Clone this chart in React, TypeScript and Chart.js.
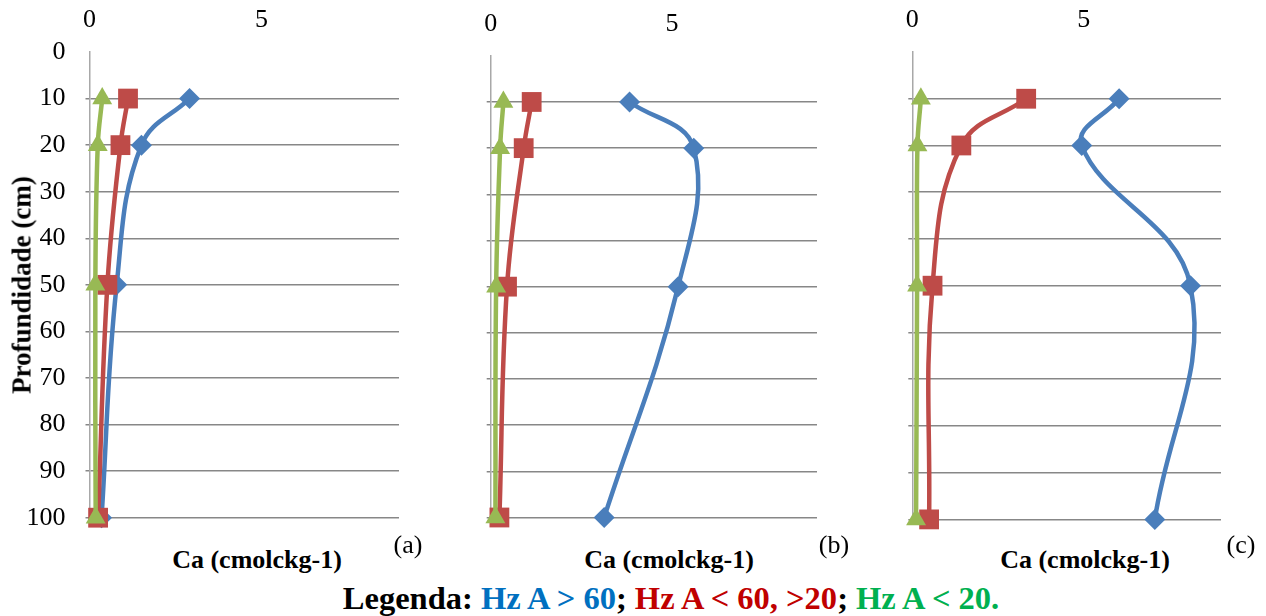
import React, { useEffect, useRef } from "react";
import { Chart, registerables } from "chart.js";
Chart.register(...registerables);

// Depth (cm) of each sample
const depths = [10, 20, 50, 100];
// Axis ticks
const yTicks = [0, 10, 20, 30, 40, 50, 60, 70, 80, 90, 100];
const xTicks = [0, 5];
const xMax = 9;

// Ca (cmolckg-1) values, panel (a)
const aHzGt60 = [2.91, 1.51, 0.79, 0.35];
const aHz20to60 = [1.12, 0.9, 0.52, 0.25];
const aHzLt20 = [0.37, 0.24, 0.17, 0.18];
// panel (b)
const bHzGt60 = [3.83, 5.6, 5.17, 3.13];
const bHz20to60 = [1.13, 0.91, 0.45, 0.24];
const bHzLt20 = [0.35, 0.26, 0.15, 0.13];
// panel (c)
const cHzGt60 = [6.03, 4.94, 8.11, 7.07];
const cHz20to60 = [3.32, 1.43, 0.59, 0.49];
const cHzLt20 = [0.25, 0.15, 0.14, 0.11];

const seriesNames = ["Hz A > 60", "Hz A < 60, >20", "Hz A < 20"];
const seriesColors = ["#4A7EBB", "#BE4B48", "#98B954"];
const seriesMarkers = ["rectRot", "rect", "triangle"];
const markerRadius = [10.5, 14, 11.5];

const FONT = "'Liberation Serif', 'Times New Roman', serif";
const H = 540;

Chart.defaults.font.family = FONT;

type PanelProps = {
  left: number;
  width: number;
  chartLeft: number;
  chartRight: number;
  chartTop: number;
  chartBottom: number;
  showY: boolean;
  series: number[][];
};

function Panel(p: PanelProps) {
  const ref = useRef<HTMLCanvasElement | null>(null);
  useEffect(() => {
    if (!ref.current) return;
    const datasets = p.series.map((vals, i) => ({
      label: seriesNames[i],
      data: vals.map((v, k) => ({ x: v, y: depths[k] })),
      showLine: true,
      borderColor: seriesColors[i],
      backgroundColor: seriesColors[i],
      borderWidth: 4.5,
      tension: 0.4,
      pointStyle: seriesMarkers[i],
      pointRadius: markerRadius[i],
      pointBorderWidth: 0,
      pointBackgroundColor: seriesColors[i],
      pointBorderColor: seriesColors[i],
      clip: false as any,
      order: 2 - i,
    }));
    const cl = p.chartLeft - p.left;
    const cr = p.chartRight - p.left;
    const chart = new Chart(ref.current, {
      type: "scatter",
      data: { datasets: datasets as any },
      options: {
        animation: false,
        responsive: false,
        devicePixelRatio: 1,
        layout: {
          padding: { left: 0, top: 0, right: p.width - cr, bottom: H - p.chartBottom },
        },
        plugins: { legend: { display: false }, tooltip: { enabled: false } },
        scales: {
          x: {
            type: "linear",
            position: "top",
            min: 0,
            max: xMax,
            afterBuildTicks: (s: any) => {
              s.ticks = xTicks.map((v) => ({ value: v }));
            },
            afterFit: (s: any) => {
              s.height = p.chartTop;
              s.paddingLeft = 0;
              s.paddingRight = 0;
            },
            grid: { display: false },
            border: { display: false },
            ticks: {
              font: { family: FONT, size: 26 },
              color: "#000",
              padding: 8,
              maxRotation: 0,
            },
          },
          y: {
            type: "linear",
            reverse: true,
            min: 0,
            max: 100,
            afterBuildTicks: (s: any) => {
              s.ticks = yTicks.map((v) => ({ value: v }));
            },
            afterFit: (s: any) => {
              s.width = cl;
              s.paddingTop = 0;
              s.paddingBottom = 0;
            },
            grid: {
              color: (ctx: any) =>
                ctx.tick && ctx.tick.value === 0 ? "rgba(0,0,0,0)" : "#878787",
              lineWidth: 1.5,
              tickLength: 4,
              drawTicks: true,
            },
            border: { display: true, color: "#a8a8a8", width: 1.5 },
            ticks: {
              display: p.showY,
              font: { family: FONT, size: 26 },
              color: "#000",
              padding: 20,
            },
          },
        },
      } as any,
    });
    return () => {
      chart.destroy();
    };
  }, []);
  return (
    <canvas
      ref={ref}
      width={p.width}
      height={H}
      style={{ position: "absolute", left: p.left, top: 0, width: p.width, height: H }}
    />
  );
}

const label = (
  text: React.ReactNode,
  x: number,
  y: number,
  size: number,
  bold: boolean,
  rotate = false
) => (
  <div
    style={{
      position: "absolute",
      left: x,
      top: y,
      transform: `translate(-50%, -50%)${rotate ? " rotate(-90deg)" : ""}`,
      fontFamily: FONT,
      fontSize: size,
      fontWeight: bold ? "bold" : "normal",
      lineHeight: 1,
      whiteSpace: "nowrap",
      color: "#000",
    }}
  >
    {text}
  </div>
);

export default function App() {
  return (
    <div
      style={{
        position: "fixed",
        left: 0,
        top: 0,
        width: 1266,
        height: 616,
        background: "#fff",
        overflow: "hidden",
      }}
    >
      <Panel
        left={0}
        width={430}
        chartLeft={89.5}
        chartRight={399}
        chartTop={52}
        chartBottom={517.7}
        showY={true}
        series={[aHzGt60, aHz20to60, aHzLt20]}
      />
      <Panel
        left={440}
        width={400}
        chartLeft={490.7}
        chartRight={817}
        chartTop={55.8}
        chartBottom={517.5}
        showY={false}
        series={[bHzGt60, bHz20to60, bHzLt20]}
      />
      <Panel
        left={860}
        width={406}
        chartLeft={912.3}
        chartRight={1221}
        chartTop={52}
        chartBottom={519.4}
        showY={false}
        series={[cHzGt60, cHz20to60, cHzLt20]}
      />
      {label("Profundidade (cm)", 22, 285, 27, true, true)}
      {label("Ca (cmolckg-1)", 257, 560, 26, true)}
      {label("Ca (cmolckg-1)", 669, 560, 26, true)}
      {label("Ca (cmolckg-1)", 1085, 560, 26, true)}
      {label("(a)", 408, 545, 26, false)}
      {label("(b)", 834, 545, 26, false)}
      {label("(c)", 1241, 545, 26, false)}
      {label(
        <span>
          Legenda: <span style={{ color: "#0070C0" }}>Hz A &gt; 60</span>;{" "}
          <span style={{ color: "#C00000" }}>Hz A &lt; 60, &gt;20</span>;{" "}
          <span style={{ color: "#00B050" }}>Hz A &lt; 20.</span>
        </span>,
        671,
        598,
        32.5,
        true
      )}
    </div>
  );
}
